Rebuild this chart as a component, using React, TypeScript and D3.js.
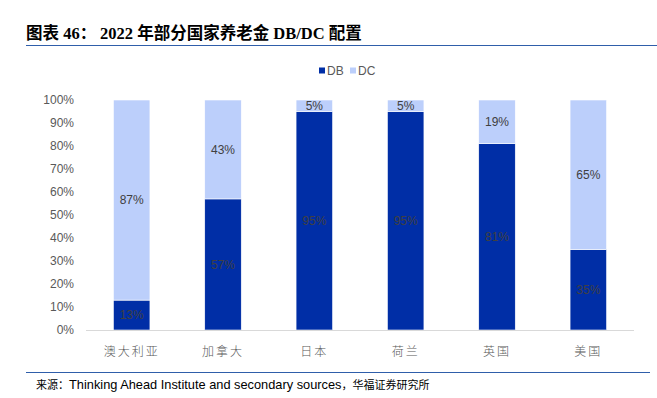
import React, { useRef, useEffect } from 'react';
import * as d3 from 'd3';

const categories = ['澳大利亚', '加拿大', '日本', '荷兰', '英国', '美国'];
const dbValues = [13, 57, 95, 95, 81, 35];
const dcValues = [87, 43, 5, 5, 19, 65];
const yTicks = [0, 10, 20, 30, 40, 50, 60, 70, 80, 90, 100];

const DB_COLOR = '#002EA6';
const DC_COLOR = '#BCCFFB';

const App = () => {
  const svgRef = useRef<SVGSVGElement>(null);

  useEffect(() => {
    const svg = d3.select(svgRef.current);
    svg.selectAll('*').remove();

    const width = 657;
    const sans = 'Arial, "Liberation Sans", sans-serif';
    const cjk = '"Noto Sans CJK SC", sans-serif';

    // title
    const title = svg.append('text')
      .attr('x', 26)
      .attr('y', 39)
      .style('font-family', '"Liberation Serif", "Noto Sans CJK SC", serif')
      .style('font-weight', 'bold')
      .style('font-size', '16.5px')
      .style('fill', '#000');
    title.append('tspan').text('图表 46：');
    title.append('tspan').attr('x', 100).text('2022 年部分国家养老金 DB/DC 配置');

    svg.append('line')
      .attr('x1', 26).attr('x2', width)
      .attr('y1', 45.5).attr('y2', 45.5)
      .attr('stroke', '#2F5EAA').attr('stroke-width', 1);

    // scales
    const x = d3.scaleBand<string>()
      .domain(categories)
      .range([86, 634])
      .paddingInner(0.6)
      .paddingOuter(0.3);
    const y = d3.scaleLinear().domain([0, 100]).range([330, 100]);

    const g = svg.append('g');

    // y tick labels
    g.selectAll('.ytick')
      .data(yTicks)
      .enter()
      .append('text')
      .attr('x', 74)
      .attr('y', d => y(d))
      .attr('dy', '0.35em')
      .attr('text-anchor', 'end')
      .style('font-family', sans)
      .style('font-size', '12px')
      .style('fill', '#595959')
      .text(d => d + '%');

    // stacked bars
    const rows = categories.map((c, i) => ({ cat: c, db: dbValues[i], dc: dcValues[i] }));
    const stack = d3.stack<any>().keys(['db', 'dc'])(rows);
    const colors = [DB_COLOR, DC_COLOR];

    stack.forEach((layer, li) => {
      g.selectAll('.bar' + li)
        .data(layer)
        .enter()
        .append('rect')
        .attr('x', d => x(d.data.cat)!)
        .attr('width', x.bandwidth())
        .attr('y', d => y(d[1]))
        .attr('height', d => y(d[0]) - y(d[1]))
        .attr('fill', colors[li])
        .attr('stroke', '#ffffff')
        .attr('stroke-width', 0.6);

      g.selectAll('.lbl' + li)
        .data(layer)
        .enter()
        .append('text')
        .attr('x', d => x(d.data.cat)! + x.bandwidth() / 2)
        .attr('y', d => y((d[0] + d[1]) / 2))
        .attr('dy', '0.35em')
        .attr('text-anchor', 'middle')
        .style('font-family', sans)
        .style('font-size', '12px')
        .style('fill', '#404040')
        .text(d => (d[1] - d[0]) + '%');
    });

    // x axis line
    g.append('line')
      .attr('x1', 86).attr('x2', 634)
      .attr('y1', 330.5).attr('y2', 330.5)
      .attr('stroke', '#D9D9D9').attr('stroke-width', 1);

    // category labels
    g.selectAll('.xlbl')
      .data(categories)
      .enter()
      .append('text')
      .attr('x', d => x(d)! + x.bandwidth() / 2)
      .attr('y', 352)
      .attr('dy', '0.35em')
      .attr('text-anchor', 'middle')
      .style('font-family', cjk)
      .style('font-size', '12px')
      .style('font-weight', 300)
      .style('letter-spacing', '2px')
      .style('fill', '#595959')
      .text(d => d);

    // legend
    const legend = [
      { label: 'DB', color: DB_COLOR, x: 319 },
      { label: 'DC', color: DC_COLOR, x: 350 },
    ];
    const lg = svg.append('g');
    legend.forEach(l => {
      lg.append('rect')
        .attr('x', l.x).attr('y', 67.5)
        .attr('width', 6).attr('height', 6)
        .attr('fill', l.color);
      lg.append('text')
        .attr('x', l.x + 8).attr('y', 71)
        .attr('dy', '0.35em')
        .style('font-family', sans)
        .style('font-size', '12px')
        .style('fill', '#595959')
        .text(l.label);
    });

    // source
    svg.append('line')
      .attr('x1', 26).attr('x2', 650)
      .attr('y1', 372.5).attr('y2', 372.5)
      .attr('stroke', '#2F5EAA').attr('stroke-width', 1);

    const src = svg.append('text')
      .attr('x', 36)
      .attr('y', 389)
      .style('fill', '#000');
    src.append('tspan').style('font-family', cjk).style('font-size', '11px').text('来源：');
    src.append('tspan').style('font-family', sans).style('font-size', '12.8px').text('Thinking Ahead Institute and secondary sources');
    src.append('tspan').style('font-family', cjk).style('font-size', '11px').text('，华福证券研究所');
  }, []);

  return (
    <svg
      ref={svgRef}
      width={657}
      height={398}
      style={{ position: 'absolute', left: 0, top: 0, background: '#fff' }}
    />
  );
};

export default App;
